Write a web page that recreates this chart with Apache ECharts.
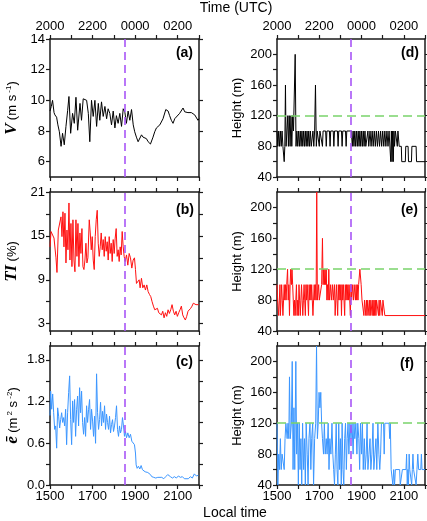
<!DOCTYPE html>
<html><head><meta charset="utf-8">
<script src="https://cdn.jsdelivr.net/npm/echarts@6/dist/echarts.min.js"></script>
<style>html,body{margin:0;padding:0;background:#fff}#c{width:427px;height:521px}</style>
</head><body><div id="c"></div>
<script>
// ---- Data: [local time (hours), value] ----
const speedV = [[15.00,9.3],[15.06,9.6],[15.12,10.0],[15.19,9.2],[15.23,9.05],[15.31,8.9],[15.37,8.4],[15.44,7.95],[15.52,7.0],[15.59,7.85],[15.67,7.1],[15.75,8.3],[15.83,9.35],[15.89,10.25],[15.97,7.85],[16.06,9.15],[16.14,8.5],[16.22,10.2],[16.30,8.05],[16.41,9.8],[16.48,8.7],[16.56,10.1],[16.64,10.0],[16.72,10.0],[16.80,9.15],[16.87,7.3],[16.95,10.0],[17.03,8.95],[17.11,10.0],[17.19,8.3],[17.27,9.8],[17.34,8.7],[17.42,9.9],[17.50,8.95],[17.58,9.6],[17.66,8.8],[17.73,9.45],[17.81,9.15],[17.89,8.4],[17.97,9.3],[18.05,8.2],[18.12,9.0],[18.20,8.5],[18.28,9.15],[18.36,8.3],[18.44,9.45],[18.52,9.2],[18.59,8.5],[18.67,9.3],[18.75,8.7],[18.83,9.4],[18.91,8.4],[18.98,7.95],[19.06,7.6],[19.14,7.3],[19.22,7.4],[19.30,7.75],[19.37,7.6],[19.45,7.5],[19.53,7.5],[19.61,7.3],[19.72,7.15],[19.84,7.6],[19.92,7.95],[20.00,8.2],[20.16,8.4],[20.31,8.8],[20.44,9.4],[20.55,9.3],[20.62,9.0],[20.70,8.7],[20.78,8.5],[20.86,8.8],[20.94,8.9],[21.09,9.15],[21.25,9.5],[21.33,9.25],[21.48,9.2],[21.64,9.2],[21.80,9.05],[21.95,8.7],[22.00,8.8]];

const turbTI = [[15.000,13.5],[15.047,15.6],[15.125,15.4],[15.188,14.7],[15.234,14.9],[15.281,12.0],[15.328,10.0],[15.391,15.8],[15.469,15.6],[15.516,17.6],[15.563,14.9],[15.609,18.3],[15.656,13.5],[15.703,18.1],[15.750,11.3],[15.797,15.8],[15.844,13.1],[15.891,19.5],[15.938,11.7],[15.984,16.7],[16.031,10.8],[16.078,17.2],[16.125,11.7],[16.172,10.1],[16.219,17.2],[16.266,12.2],[16.313,16.7],[16.359,10.8],[16.406,15.4],[16.453,12.6],[16.500,16.0],[16.547,10.8],[16.594,10.4],[16.641,11.7],[16.688,14.0],[16.734,11.3],[16.781,12.0],[16.844,17.2],[16.891,15.4],[16.938,13.1],[16.984,14.9],[17.031,11.7],[17.078,10.4],[17.125,14.9],[17.172,17.2],[17.219,18.5],[17.266,14.0],[17.313,12.2],[17.359,13.5],[17.406,15.4],[17.453,13.1],[17.500,14.5],[17.547,12.2],[17.594,14.9],[17.641,12.9],[17.688,14.2],[17.734,11.7],[17.781,14.9],[17.828,12.6],[17.875,14.0],[17.922,11.5],[17.969,14.5],[18.016,12.6],[18.063,14.7],[18.109,16.0],[18.156,12.2],[18.203,13.1],[18.250,11.5],[18.297,13.5],[18.344,12.4],[18.391,15.6],[18.438,13.5],[18.484,12.2],[18.531,11.5],[18.594,12.4],[18.656,11.0],[18.719,12.6],[18.781,12.0],[18.844,10.6],[18.906,11.7],[18.969,12.0],[19.016,10.4],[19.063,8.5],[19.125,8.3],[19.188,9.0],[19.234,7.9],[19.297,9.2],[19.359,7.9],[19.422,8.3],[19.484,7.6],[19.547,8.3],[19.609,7.4],[19.672,7.0],[19.734,6.7],[19.797,6.0],[19.859,5.4],[19.922,4.9],[19.984,4.7],[20.047,5.1],[20.109,4.5],[20.172,4.7],[20.234,4.2],[20.297,4.7],[20.359,3.8],[20.422,4.5],[20.484,4.0],[20.547,4.9],[20.609,4.4],[20.672,4.9],[20.734,5.6],[20.797,4.7],[20.859,4.2],[20.922,4.7],[20.984,4.0],[21.047,4.5],[21.109,4.9],[21.172,5.4],[21.234,4.2],[21.297,3.8],[21.359,3.5],[21.422,4.0],[21.484,4.7],[21.547,4.5],[21.609,5.1],[21.672,5.4],[21.734,5.8],[21.797,6.0],[21.859,5.6],[21.922,5.8],[21.984,5.6]];

const tkeE = [[15.000,1.00],[15.031,1.35],[15.078,1.09],[15.125,1.31],[15.172,1.04],[15.219,0.80],[15.266,0.85],[15.313,0.53],[15.359,1.11],[15.406,0.99],[15.453,0.82],[15.500,0.94],[15.547,1.04],[15.594,0.90],[15.641,0.97],[15.688,0.85],[15.734,1.09],[15.781,0.58],[15.828,1.04],[15.875,1.33],[15.922,1.57],[15.969,0.94],[16.016,0.58],[16.063,1.21],[16.109,0.90],[16.156,1.23],[16.203,0.70],[16.250,1.09],[16.297,1.28],[16.344,0.85],[16.391,1.40],[16.438,1.04],[16.484,1.35],[16.531,0.90],[16.578,0.73],[16.625,0.97],[16.672,0.70],[16.719,1.14],[16.766,0.90],[16.813,1.09],[16.859,1.23],[16.906,0.80],[16.953,1.09],[17.000,0.92],[17.047,0.70],[17.094,0.99],[17.141,0.60],[17.188,1.60],[17.234,1.04],[17.281,0.80],[17.328,0.94],[17.375,1.19],[17.422,0.85],[17.469,1.06],[17.516,0.90],[17.563,1.14],[17.609,0.80],[17.656,1.02],[17.703,0.90],[17.750,0.80],[17.797,0.99],[17.844,0.75],[17.891,0.87],[17.938,0.94],[17.984,0.77],[18.031,0.85],[18.078,0.97],[18.125,1.14],[18.172,0.80],[18.219,0.70],[18.266,0.85],[18.313,0.75],[18.359,0.80],[18.406,0.97],[18.453,0.85],[18.500,0.70],[18.547,0.77],[18.594,0.68],[18.656,0.75],[18.719,0.68],[18.781,0.73],[18.844,0.63],[18.906,0.65],[18.969,0.58],[19.016,0.46],[19.047,0.29],[19.094,0.24],[19.156,0.27],[19.219,0.23],[19.281,0.28],[19.344,0.22],[19.406,0.23],[19.469,0.19],[19.531,0.21],[19.594,0.18],[19.656,0.17],[19.719,0.15],[19.781,0.12],[19.875,0.11],[19.969,0.10],[20.063,0.11],[20.156,0.09],[20.250,0.11],[20.344,0.09],[20.438,0.12],[20.531,0.15],[20.594,0.16],[20.656,0.12],[20.750,0.10],[20.844,0.12],[20.938,0.10],[21.031,0.13],[21.125,0.11],[21.219,0.12],[21.313,0.09],[21.406,0.07],[21.500,0.09],[21.594,0.12],[21.688,0.10],[21.781,0.16],[21.875,0.13],[21.969,0.14]];

const heightD = [[15.00,100],[15.04,80],[15.08,100],[15.12,80],[15.16,100],[15.20,80],[15.24,100],[15.28,80],[15.31,80],[15.34,60],[15.37,80],[15.40,160],[15.43,80],[15.47,100],[15.51,120],[15.54,80],[15.58,120],[15.62,80],[15.66,120],[15.70,80],[15.74,120],[15.78,100],[15.82,100],[15.86,200],[15.90,80],[15.94,100],[15.98,80],[16.02,100],[16.06,80],[16.10,100],[16.14,80],[16.18,100],[16.22,80],[16.26,100],[16.30,80],[16.34,100],[16.38,80],[16.42,100],[16.46,80],[16.50,100],[16.54,80],[16.58,100],[16.62,80],[16.66,80],[16.70,100],[16.74,80],[16.78,100],[16.82,160],[16.86,80],[16.90,100],[16.98,100],[17.00,80],[17.03,100],[17.12,100],[17.15,80],[17.18,100],[17.30,100],[17.33,80],[17.36,100],[17.48,100],[17.51,80],[17.54,100],[17.66,100],[17.69,80],[17.72,100],[17.86,100],[17.89,80],[17.92,100],[18.05,100],[18.08,80],[18.11,100],[18.24,100],[18.27,80],[18.30,100],[18.52,100],[18.56,80],[18.60,100],[18.64,80],[18.68,100],[18.72,80],[18.76,100],[18.80,80],[18.84,100],[18.88,80],[18.92,100],[18.96,80],[19.00,100],[19.04,80],[19.08,100],[19.12,80],[19.16,100],[19.20,80],[19.26,80],[19.30,100],[19.34,80],[19.40,100],[19.45,80],[19.50,100],[19.55,80],[19.60,100],[19.65,80],[19.70,100],[19.75,80],[19.80,100],[19.85,80],[19.90,100],[19.95,80],[20.00,100],[20.05,80],[20.10,100],[20.15,80],[20.20,100],[20.25,80],[20.30,100],[20.35,100],[20.38,60],[20.41,100],[20.44,60],[20.47,100],[20.50,60],[20.53,100],[20.56,80],[20.60,100],[20.66,100],[20.69,80],[20.72,100],[20.76,100],[20.78,80],[20.88,80],[20.90,60],[21.07,60],[21.09,80],[21.20,80],[21.22,60],[21.36,60],[21.38,80],[21.58,80],[21.60,60],[22.00,60]];

const heightE = [[15.00,100],[15.03,80],[15.06,80],[15.08,60],[15.11,80],[15.14,100],[15.16,60],[15.19,80],[15.22,100],[15.25,80],[15.28,60],[15.31,80],[15.34,100],[15.37,80],[15.40,100],[15.43,80],[15.46,100],[15.50,120],[15.53,80],[15.56,100],[15.59,60],[15.62,100],[15.65,120],[15.68,100],[15.71,120],[15.74,100],[15.77,80],[15.80,60],[15.83,80],[15.86,60],[15.89,80],[15.92,100],[15.95,60],[15.98,80],[16.01,60],[16.04,100],[16.07,80],[16.10,60],[16.13,80],[16.16,100],[16.19,80],[16.22,60],[16.25,80],[16.28,100],[16.31,80],[16.34,60],[16.37,100],[16.40,80],[16.43,100],[16.46,80],[16.49,60],[16.52,100],[16.55,80],[16.58,100],[16.61,80],[16.64,100],[16.67,80],[16.70,60],[16.73,80],[16.76,100],[16.79,80],[16.82,100],[16.85,80],[16.88,220],[16.91,80],[16.94,80],[16.97,100],[17.00,80],[17.04,80],[17.08,80],[17.11,100],[17.15,160],[17.18,100],[17.21,120],[17.24,100],[17.27,120],[17.30,100],[17.33,120],[17.36,80],[17.39,100],[17.42,80],[17.45,120],[17.48,80],[17.51,80],[17.54,100],[17.57,80],[17.60,80],[17.63,100],[17.66,80],[17.69,80],[17.72,100],[17.75,60],[17.78,80],[17.81,100],[17.84,80],[17.87,60],[17.90,100],[17.93,80],[17.96,100],[17.99,80],[18.02,100],[18.05,60],[18.08,100],[18.11,80],[18.14,100],[18.17,80],[18.20,60],[18.23,100],[18.26,80],[18.29,100],[18.32,80],[18.35,100],[18.38,80],[18.41,100],[18.44,80],[18.47,60],[18.50,100],[18.53,80],[18.56,100],[18.59,100],[18.62,80],[18.65,100],[18.68,100],[18.71,80],[18.74,100],[18.77,80],[18.80,100],[18.83,80],[18.86,100],[18.89,100],[18.92,120],[18.95,120],[18.98,100],[19.02,80],[19.05,80],[19.08,80],[19.11,60],[19.14,80],[19.17,80],[19.20,60],[19.23,80],[19.26,60],[19.29,80],[19.32,80],[19.35,60],[19.38,80],[19.41,60],[19.44,80],[19.47,80],[19.50,60],[19.53,80],[19.56,60],[19.59,80],[19.62,60],[19.65,80],[19.68,60],[19.71,80],[19.74,80],[19.77,80],[19.80,60],[19.83,80],[19.86,60],[19.89,80],[19.92,80],[19.95,80],[19.98,60],[20.01,80],[20.04,80],[20.07,80],[20.10,60],[22.00,60]];

const heightF = [[15.00,120],[15.04,40],[15.08,80],[15.12,60],[15.16,100],[15.20,60],[15.24,80],[15.30,80],[15.34,60],[15.38,100],[15.42,120],[15.48,100],[15.52,120],[15.56,100],[15.59,180],[15.63,100],[15.68,120],[15.72,200],[15.76,60],[15.80,140],[15.84,60],[15.89,200],[15.93,80],[15.97,120],[16.01,40],[16.05,120],[16.09,60],[16.13,100],[16.17,40],[16.21,120],[16.26,60],[16.30,100],[16.34,40],[16.38,120],[16.43,80],[16.47,40],[16.51,100],[16.56,120],[16.60,60],[16.64,100],[16.69,120],[16.73,40],[16.78,100],[16.83,120],[16.87,220],[16.91,100],[16.95,120],[16.99,160],[17.03,140],[17.07,160],[17.11,120],[17.15,100],[17.20,80],[17.24,120],[17.28,80],[17.33,100],[17.37,80],[17.42,120],[17.46,60],[17.50,100],[17.55,80],[17.60,120],[17.64,80],[17.68,60],[17.72,40],[17.76,80],[17.80,120],[17.84,60],[17.88,40],[17.92,120],[17.96,60],[18.00,100],[18.04,40],[18.08,120],[18.12,60],[18.16,40],[18.20,100],[18.24,120],[18.28,60],[18.32,100],[18.36,120],[18.40,80],[18.45,120],[18.50,100],[18.55,120],[18.60,80],[18.64,120],[18.68,100],[18.73,120],[18.78,80],[18.82,120],[18.87,100],[18.91,60],[18.95,120],[19.00,80],[19.04,120],[19.08,60],[19.13,100],[19.17,60],[19.22,80],[19.26,120],[19.30,60],[19.35,80],[19.40,100],[19.44,60],[19.49,80],[19.54,120],[19.58,60],[19.63,80],[19.68,100],[19.72,60],[19.77,120],[19.82,80],[19.86,60],[19.90,80],[19.94,120],[20.04,120],[20.07,80],[20.10,120],[20.30,120],[20.33,100],[20.36,120],[20.40,60],[20.45,60],[20.48,40],[20.52,60],[20.56,40],[20.60,60],[20.80,60],[20.83,40],[20.90,40],[20.93,60],[21.10,60],[21.13,80],[21.16,40],[21.19,60],[21.22,40],[21.25,80],[21.28,60],[21.34,60],[21.37,40],[21.40,60],[21.43,80],[21.46,60],[21.55,60],[21.58,40],[21.62,60],[21.66,80],[21.70,60],[21.80,60],[21.83,80],[21.86,60],[22.00,60]];

// ---- Axis tick / label values ----
const localTicksLabeled = [15, 17, 19, 21];   // 1500, 1700, 1900, 2100 local
const utcOffset = 5;                          // UTC = local + 5 h
const ticksV = [6, 8, 10, 12, 14], labelsV = [6, 8, 10, 12, 14];
const ticksTI = [3, 6, 9, 12, 15, 18, 21], labelsTI = [3, 9, 15, 21];
const ticksE = [0, 0.3, 0.6, 0.9, 1.2, 1.5, 1.8], labelsE = [0, 0.6, 1.2, 1.8];
const ticksH = [40, 60, 80, 100, 120, 140, 160, 180, 200], labelsH = [40, 80, 120, 160, 200];
const sunsetLocal = 18.5;    // vertical dashed line
const heightRef = 120;       // horizontal dashed line
const panelLetters = ['(a)', '(b)', '(c)', '(d)', '(e)', '(f)'];

// ---- Layout ----
const FONT = '"Liberation Sans", Arial, Helvetica, sans-serif';
const AX = '#1a1a1a';
const gridsPos = [
  {left: 50, top: 39, width: 149, height: 138},
  {left: 50, top: 192, width: 149, height: 139},
  {left: 50, top: 346, width: 149, height: 139},
  {left: 277, top: 39, width: 148, height: 138},
  {left: 277, top: 192, width: 148, height: 139},
  {left: 277, top: 346, width: 148, height: 139}
];
const pad2 = n => (n < 10 ? '0' : '') + n;

const rich = {
  it: {fontFamily: '"Liberation Serif", "DejaVu Serif", serif', fontStyle: 'italic', fontWeight: 'bold', fontSize: 17, color: '#000', lineHeight: 20},
  n: {fontFamily: FONT, fontSize: 13, color: '#000', lineHeight: 20},
  s: {fontFamily: FONT, fontSize: 8, color: '#000', lineHeight: 20, verticalAlign: 'top', padding: [3, 0, 0, 0]}
};

const yDefs = [
  {min: 5, max: 14, ticks: ticksV, labels: labelsV, fmt: v => String(v), name: '{it|V} {n|(m s}{s| -1}{n|)}', gap: 28},
  {min: 2, max: 21, ticks: ticksTI, labels: labelsTI, fmt: v => String(v), name: '{it|TI} {n|(%)}', gap: 28},
  {min: 0, max: 2, ticks: ticksE, labels: labelsE, fmt: v => v.toFixed(1), name: '{it|ē} {n|(m}{s| 2}{n| s}{s| -2}{n|)}', gap: 27},
  {min: 40, max: 220, ticks: ticksH, labels: labelsH, fmt: v => String(v), name: '{n|Height (m)}', gap: 30},
  {min: 40, max: 220, ticks: ticksH, labels: labelsH, fmt: v => String(v), name: '{n|Height (m)}', gap: 30},
  {min: 40, max: 220, ticks: ticksH, labels: labelsH, fmt: v => String(v), name: '{n|Height (m)}', gap: 30}
];
const seriesData = [speedV, turbTI, tkeE, heightD, heightE, heightF];
const colors = ['#000000', '#ff1010', '#3b96ff', '#000000', '#ff1010', '#3b96ff'];

const axisLine = {show: true, onZero: false, lineStyle: {color: AX, width: 1.5}};
const axisTickBase = {show: true, inside: false, length: 4, lineStyle: {color: AX, width: 1.2}};

const xAxes = [], yAxes = [], series = [];
gridsPos.forEach((g, i) => {
  const row = i % 3;
  xAxes.push({
    type: 'value', gridIndex: i, position: 'bottom', min: 15, max: 22, interval: 1,
    axisLine, axisTick: axisTickBase, splitLine: {show: false},
    axisLabel: {show: row === 2, customValues: localTicksLabeled, formatter: v => pad2(v) + '00',
      fontFamily: FONT, fontSize: 13, color: '#000', margin: 5}
  });
  xAxes.push({
    type: 'value', gridIndex: i, position: 'top', min: 15, max: 22, interval: 1,
    axisLine, axisTick: axisTickBase, splitLine: {show: false},
    axisLabel: {show: row === 0, customValues: localTicksLabeled,
      formatter: v => pad2((v + utcOffset) % 24) + '00',
      fontFamily: FONT, fontSize: 13, color: '#000', margin: 6}
  });
  const d = yDefs[i];
  yAxes.push({
    type: 'value', gridIndex: i, position: 'left', min: d.min, max: d.max,
    axisLine, splitLine: {show: false},
    axisTick: Object.assign({}, axisTickBase, {customValues: d.ticks}),
    axisLabel: {customValues: d.labels, formatter: d.fmt, fontFamily: FONT, fontSize: 13, color: '#000', margin: 5},
    name: d.name, nameLocation: 'middle', nameGap: d.gap, nameTextStyle: {rich}
  });
  yAxes.push({
    type: 'value', gridIndex: i, position: 'right', min: d.min, max: d.max,
    axisLine, splitLine: {show: false},
    axisTick: Object.assign({}, axisTickBase, {customValues: d.ticks}),
    axisLabel: {show: false}
  });
  const mlData = [{xAxis: sunsetLocal, lineStyle: {color: '#a855f7', type: [8, 5], width: 1.6}}];
  if (i >= 3) mlData.push({yAxis: heightRef, lineStyle: {color: '#7ad36b', type: [9, 5], width: 1.6}});
  series.push({
    type: 'line', xAxisIndex: 2 * i, yAxisIndex: 2 * i, data: seriesData[i],
    showSymbol: false, symbol: 'none', animation: false,
    lineStyle: {color: colors[i], width: 1}, itemStyle: {color: colors[i]},
    markLine: {silent: true, symbol: ['none', 'none'], label: {show: false}, animation: false, data: mlData}
  });
});

const letterPos = [[193, 53], [194, 210], [193, 362], [419, 53], [418, 210], [414, 364]];
const graphic = [
  {type: 'text', x: 236, y: 8, style: {text: 'Time (UTC)', font: '14px ' + FONT, fill: '#000', align: 'center', verticalAlign: 'middle'}},
  {type: 'text', x: 235, y: 513, style: {text: 'Local time', font: '14px ' + FONT, fill: '#000', align: 'center', verticalAlign: 'middle'}}
];
panelLetters.forEach((t, i) => graphic.push({type: 'text', x: letterPos[i][0], y: letterPos[i][1],
  style: {text: t, font: 'bold 14px ' + FONT, fill: '#000', align: 'right', verticalAlign: 'middle'}}));

const chart = echarts.init(document.getElementById('c'), null, {renderer: 'canvas'});
chart.setOption({
  animation: false, backgroundColor: '#fff',
  grid: gridsPos, xAxis: xAxes, yAxis: yAxes, series, graphic
});
</script></body></html>
